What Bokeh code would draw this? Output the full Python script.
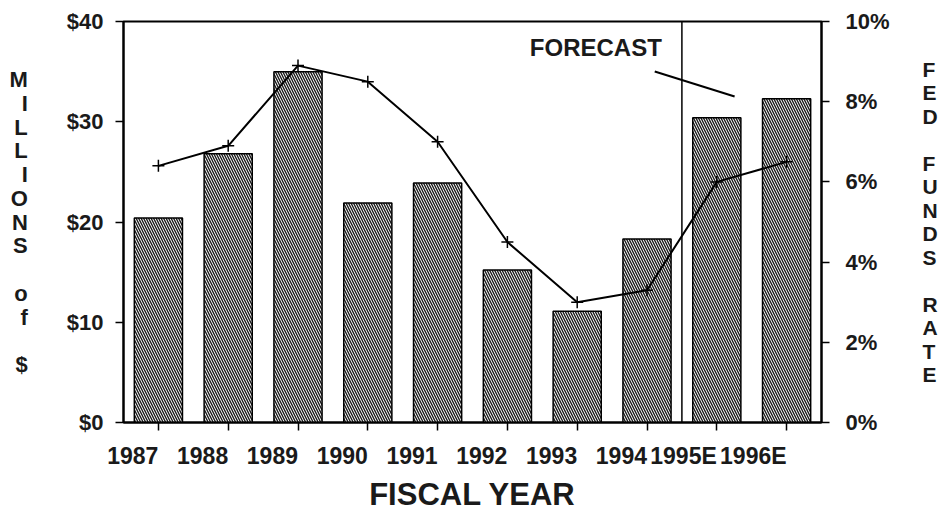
from bokeh.plotting import figure
from bokeh.models import (Range1d, LinearAxis, FactorRange, PrintfTickFormatter,
                          FixedTicker, Label, Span)
from bokeh.embed import file_html
from bokeh.resources import INLINE

# Fiscal years (E = estimate)
years = ["1987", "1988", "1989", "1990", "1991", "1992", "1993", "1994", "1995E", "1996E"]
# Revenue, $ millions (bars, left axis)
revenue = [20.4, 26.8, 35.0, 21.9, 23.9, 15.2, 11.1, 18.3, 30.4, 32.3]
# Fed funds rate, % (line, right axis)
fed_rate = [6.4, 6.9, 8.9, 8.5, 7.0, 4.5, 3.0, 3.3, 6.0, 6.5]

money_ticks = [0, 10, 20, 30, 40]
rate_ticks = [0, 2, 4, 6, 8, 10]

FONT = "Liberation Sans"
W, H = 940, 514
LEFT, RIGHT, TOP, BOTTOM = 123, 118, 21, 92
FRAME_H = H - TOP - BOTTOM

p = figure(x_range=FactorRange(*years), y_range=Range1d(0, 40),
           width=W, height=H, output_backend="svg", toolbar_location=None,
           min_border_left=LEFT, min_border_right=RIGHT,
           min_border_top=TOP, min_border_bottom=BOTTOM)
p.extra_y_ranges = {"rate": Range1d(0, 10)}

p.xgrid.visible = False
p.ygrid.visible = False
p.outline_line_color = "black"
p.outline_line_width = 2
p.background_fill_color = "white"
p.border_fill_color = "white"

# bars
p.vbar(x=years, top=revenue, width=0.69, fill_color="white",
       line_color="black", line_width=1.5,
       hatch_pattern="left_diagonal_line", hatch_color="#1a1a1a",
       hatch_scale=5, hatch_weight=1.4)

# rate line
p.line(x=years, y=fed_rate, y_range_name="rate", line_color="black", line_width=2)
p.scatter(x=years, y=fed_rate, y_range_name="rate", marker="cross", size=12,
          line_color="black", line_width=1.5)

# forecast divider
p.add_layout(Span(location=8, dimension="height", line_color="black", line_width=1.5))


def style_axis(ax, size, standoff):
    ax.axis_line_color = "black"
    ax.axis_line_width = 2
    ax.major_tick_in = 0
    ax.major_tick_out = 8
    ax.major_tick_line_width = 1.5
    ax.minor_tick_line_color = None
    ax.major_label_text_font = FONT
    ax.major_label_text_font_style = "bold"
    ax.major_label_text_font_size = size
    ax.major_label_text_color = "#1a1a1a"
    ax.major_label_standoff = standoff
    ax.axis_label_text_font = FONT
    ax.axis_label_text_font_style = "bold"
    ax.axis_label_text_color = "#1a1a1a"


def stacked(words):
    # one letter per line, blank line between words
    return "\n\n".join("\n".join(w) for w in words)


yax = p.yaxis[0]
style_axis(yax, "22px", 12)
yax.ticker = FixedTicker(ticks=money_ticks)
yax.formatter = PrintfTickFormatter(format="$%d")
yax.axis_label = stacked(["MILLIONS", "of", "$"])
yax.axis_label_orientation = "horizontal"
yax.axis_label_text_font_size = "22px"
yax.axis_label_text_line_height = 0.95
yax.axis_label_standoff = 36

xax = p.xaxis[0]
style_axis(xax, "23px", 25)
xax.major_label_orientation = 0
xax.axis_label = "FISCAL YEAR"
xax.axis_label_text_font_size = "31px"
xax.axis_label_standoff = -8

rax = LinearAxis(y_range_name="rate", ticker=FixedTicker(ticks=rate_ticks),
                 formatter=PrintfTickFormatter(format="%d%%"))
style_axis(rax, "22px", 16)
rax.axis_label = stacked(["FED", "FUNDS", "RATE"])
rax.axis_label_orientation = "horizontal"
rax.axis_label_text_font_size = "21px"
rax.axis_label_text_line_height = 1.02
rax.axis_label_standoff = 30
p.add_layout(rax, "right")

# forecast callout (inside the frame)
CAT_W = (W - LEFT - RIGHT) / len(years)


def dx(px):
    return (px - LEFT) / CAT_W


def dy(py):
    return (H - BOTTOM - py) * 40 / FRAME_H


p.add_layout(Label(x=dx(596), y=dy(47), text="FORECAST", text_font=FONT,
                   text_font_style="bold", text_font_size="24px", text_color="#1a1a1a",
                   text_align="center", text_baseline="middle"))
p.segment(x0=[dx(655)], y0=[dy(71)], x1=[dx(735)], y1=[dy(96)],
          line_color="black", line_width=2)

open("out.html", "w").write(file_html(p, INLINE))
